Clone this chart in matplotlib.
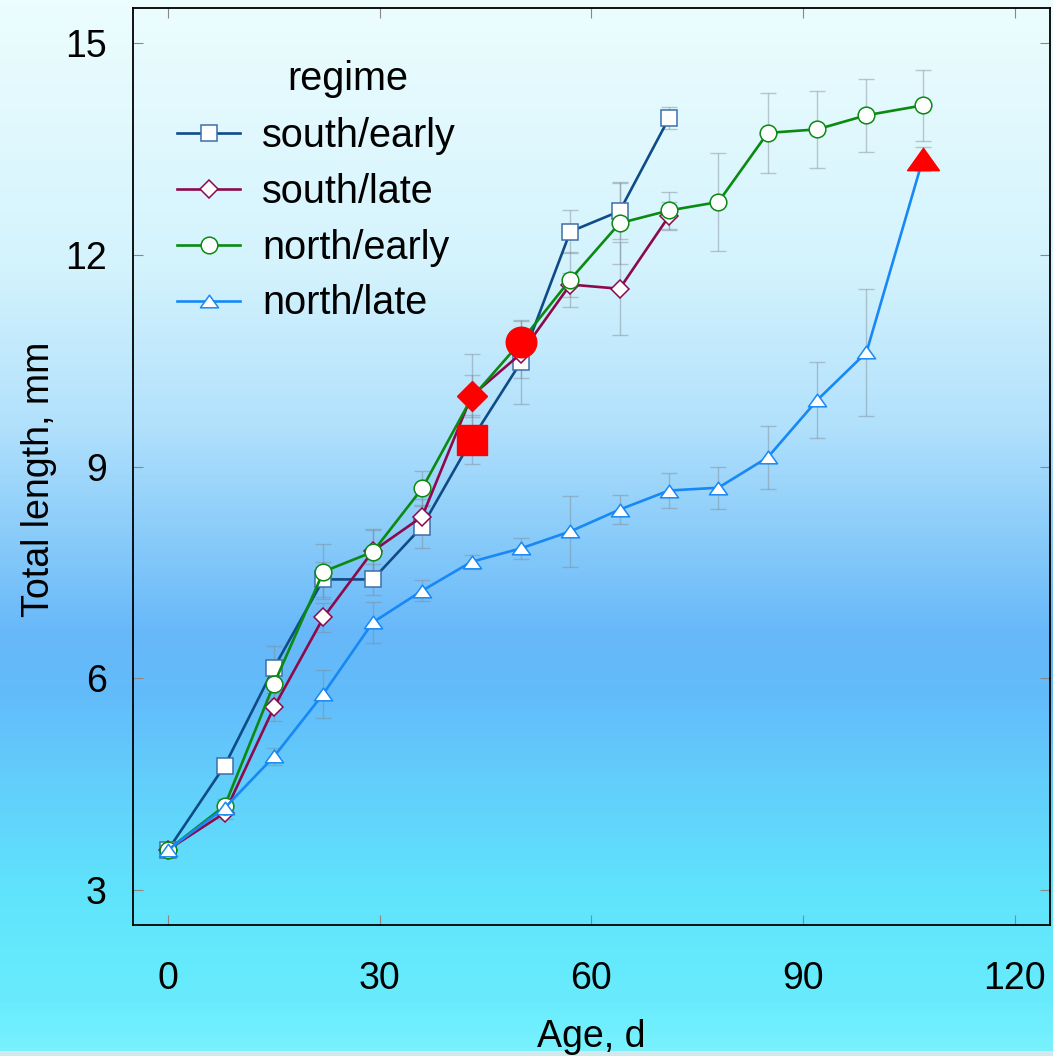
import numpy as np
import matplotlib
matplotlib.use("Agg")
import matplotlib.pyplot as plt
from matplotlib.path import Path
from matplotlib.colors import LinearSegmentedColormap

# ---------------- data ----------------
series_names = ["south/early", "south/late", "north/early", "north/late"]
legend_title = "regime"

ages_short = [0, 8, 15, 22, 29, 36, 43, 50, 57, 64, 71]
ages_long = [0, 8, 15, 22, 29, 36, 43, 50, 57, 64, 71, 78, 85, 92, 99, 107]

south_early = [3.57, 4.76, 6.15, 7.40, 7.40, 8.15, 9.38, 10.48, 12.33, 12.62, 13.94]
south_early_err = [0.05, 0.10, 0.31, 0.25, 0.22, 0.30, 0.35, 0.60, 0.30, 0.40, 0.15]

south_late = [3.57, 4.09, 5.59, 6.86, 7.80, 8.29, 10.00, 10.60, 11.58, 11.52, 12.55]
south_late_err = [0.05, 0.08, 0.20, 0.20, 0.30, 0.25, 0.30, 0.35, 0.17, 0.66, 0.20]

north_early = [3.57, 4.19, 5.92, 7.51, 7.79, 8.69, 9.97, 10.77, 11.65, 12.45, 12.63,
               12.75, 13.73, 13.78, 13.98, 14.12]
north_early_err = [0.05, 0.10, 0.20, 0.39, 0.32, 0.25, 0.62, 0.30, 0.39, 0.58, 0.26,
                   0.70, 0.57, 0.55, 0.52, 0.50]

north_late = [3.57, 4.16, 4.89, 5.78, 6.79, 7.24, 7.65, 7.84, 8.08, 8.39, 8.66,
              8.70, 9.13, 9.94, 10.62, 13.36]
north_late_err = [0.05, 0.10, 0.12, 0.34, 0.29, 0.15, 0.10, 0.15, 0.50, 0.20, 0.25,
                  0.30, 0.45, 0.54, 0.90, 0.17]

# index of highlighted point in each series
highlight_idx = [6, 6, 7, 15]

x_ticks = [0, 30, 60, 90, 120]
y_ticks = [3, 6, 9, 12, 15]

# ---------------- style ----------------
line_colors = ["#0f4c87", "#8c0a4b", "#0b8a12", "#1788f5"]
edge_colors = ["#3d6fa8", "#8c0a4b", "#0b8a12", "#1788f5"]
tri = Path([(-1, -0.7), (1, -0.7), (0, 0.7), (-1, -0.7)],
           [Path.MOVETO, Path.LINETO, Path.LINETO, Path.CLOSEPOLY])
markers = ["s", "D", "o", tri]
msizes = [12, 8.7, 12, 13]
hl_sizes = [22, 15.5, 22, 23]

FONT = ["Liberation Sans", "DejaVu Sans"]
plt.rcParams["font.family"] = FONT

fig = plt.figure(figsize=(10.53, 10.56), dpi=100)

# background gradient across the whole figure
bg = fig.add_axes([0, 0, 1, 1], zorder=-10)
stops = [
    (0.00, (236, 253, 254)),
    (0.25, (212, 243, 253)),
    (0.40, (178, 225, 252)),
    (0.50, (140, 205, 250)),
    (0.60, (103, 184, 249)),
    (0.66, (98, 188, 250)),
    (0.75, (98, 208, 251)),
    (0.85, (95, 228, 252)),
    (0.95, (104, 236, 253)),
    (0.996, (120, 241, 253)),
    (1.00, (210, 232, 234)),
]
cmap = LinearSegmentedColormap.from_list(
    "bg", [(p, tuple(c / 255 for c in col)) for p, col in stops])
grad = np.linspace(0, 1, 1056).reshape(-1, 1)
bg.imshow(grad, aspect="auto", cmap=cmap, extent=[0, 1, 0, 1], origin="upper",
          interpolation="nearest")
bg.set_axis_off()

ax = fig.add_axes([0.1263, 0.124, 0.997 - 0.1263, 0.9924 - 0.124])
ax.set_facecolor("none")

all_y = [south_early, south_late, north_early, north_late]
all_err = [south_early_err, south_late_err, north_early_err, north_late_err]
all_x = [ages_short, ages_short, ages_long, ages_long]

for i in range(4):
    ax.errorbar(all_x[i], all_y[i], yerr=all_err[i], fmt="none", ecolor="#7f8a95",
                alpha=0.45, elinewidth=1.0, capsize=5.5, capthick=1.0, zorder=2)

handles = []
for i in range(4):
    h, = ax.plot(all_x[i], all_y[i], color=line_colors[i], lw=1.9,
                 marker=markers[i], ms=msizes[i], mfc="white",
                 mec=edge_colors[i], mew=1.1, zorder=3 + i,
                 label=series_names[i])
    handles.append(h)

for i in range(4):
    k = highlight_idx[i]
    ax.plot([all_x[i][k]], [all_y[i][k]], linestyle="none", marker=markers[i],
            ms=hl_sizes[i], mfc="red", mec="red", zorder=10)

ax.set_xlim(-5, 125)
ax.set_ylim(2.5, 15.5)
ax.set_xticks(x_ticks)
ax.set_yticks(y_ticks)
ax.tick_params(axis="both", direction="in", length=7, width=0.8, color="#888888",
               top=True, right=True, labelsize=27)
ax.tick_params(axis="x", pad=26)
ax.tick_params(axis="y", pad=19)
for s in ax.spines.values():
    s.set_color("black")
    s.set_linewidth(1.3)

ax.set_xlabel("Age, d", fontsize=27, labelpad=16)
ax.set_ylabel("Total length, mm", fontsize=27)
ax.yaxis.set_label_coords(-0.083, 0.486)

ax.text(0.2345, 0.9106, legend_title, transform=ax.transAxes, ha="center",
        va="baseline", fontsize=28.5)
leg = ax.legend(handles=handles, loc="upper left",
                bbox_to_anchor=(0.022, 0.907), frameon=False, fontsize=28.5,
                handlelength=1.6, handletextpad=0.55,
                labelspacing=0.45, borderaxespad=0.2)

fig.savefig("out.png", dpi=100)
